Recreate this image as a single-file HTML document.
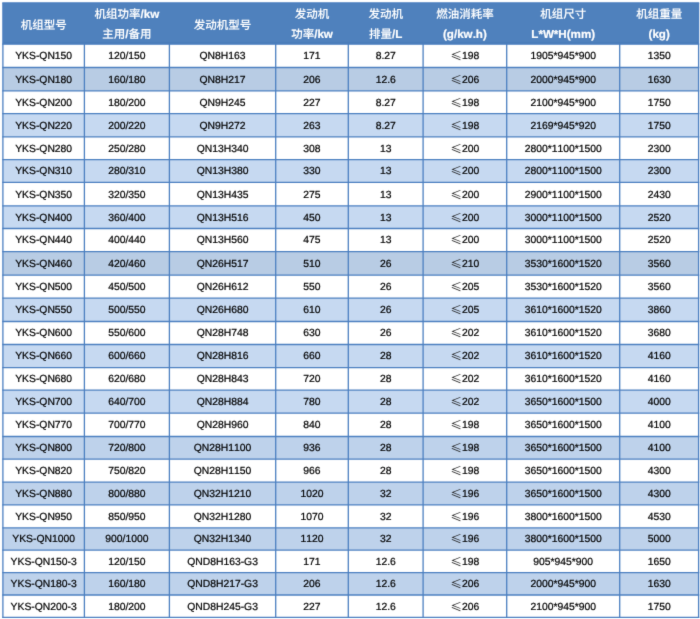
<!DOCTYPE html>
<html lang="zh-CN"><head><meta charset="utf-8"><title>机组型号参数表</title>
<style>
html,body{margin:0;padding:0;background:#fff;}
body{width:700px;height:619px;overflow:hidden;}
svg{display:block;will-change:transform;opacity:0.999;}
text{font-kerning:none;}
.b{font-family:"Liberation Sans","Noto Sans CJK SC",sans-serif;font-size:10.35px;fill:#000;stroke:#000;stroke-width:0.22px;text-anchor:middle;text-rendering:geometricPrecision;}
.h{font-family:"Liberation Sans","Noto Sans CJK SC",sans-serif;font-size:11.6px;font-weight:bold;fill:#fff;stroke:#fff;stroke-width:0.2px;text-anchor:middle;text-rendering:geometricPrecision;}
.le{font-family:"Noto Sans CJK SC",sans-serif;stroke:none;font-weight:400;font-size:11.5px;fill:#222;}
.c{font-weight:500;font-size:11.5px;stroke:#fff;stroke-width:0.08px;}
</style></head><body>
<svg width="700" height="619" viewBox="0 0 700 619">
<defs><filter id="soft" x="0" y="0" width="100%" height="100%" filterUnits="objectBoundingBox" color-interpolation-filters="sRGB"><feConvolveMatrix order="3" kernelMatrix="1 8 1 8 64 8 1 8 1" divisor="100" edgeMode="duplicate" preserveAlpha="false"/></filter></defs>
<g filter="url(#soft)">
<rect x="0" y="0" width="700" height="619" fill="#fff"/>
<rect x="2.9" y="2.9" width="695.7" height="41.2" fill="#4f81bd"/>
<rect x="2.9" y="41.8" width="695.7" height="2.3" fill="#4a7cb9"/>
<rect x="2.9" y="67.5" width="695.7" height="23.4" fill="#b8cce4"/>
<rect x="2.9" y="113.7" width="695.7" height="23.1" fill="#c6d9f1"/>
<rect x="2.9" y="159.6" width="695.7" height="22.8" fill="#c6d9f1"/>
<rect x="2.9" y="205.9" width="695.7" height="22.6" fill="#c6d9f1"/>
<rect x="2.9" y="251.6" width="695.7" height="23.6" fill="#b8cce4"/>
<rect x="2.9" y="298.2" width="695.7" height="23.3" fill="#c6d9f1"/>
<rect x="2.9" y="344.5" width="695.7" height="23.1" fill="#c6d9f1"/>
<rect x="2.9" y="390.2" width="695.7" height="23" fill="#c6d9f1"/>
<rect x="2.9" y="436.5" width="695.7" height="22.6" fill="#bed2eb"/>
<rect x="2.9" y="482.2" width="695.7" height="22.7" fill="#bed2eb"/>
<rect x="2.9" y="527.9" width="695.7" height="22.2" fill="#bed2eb"/>
<rect x="2.9" y="572.6" width="695.7" height="22.4" fill="#bed2eb"/>
<g stroke="#4b7fc0" stroke-width="1.3" fill="none">
<line x1="2.25" y1="2.9" x2="699.25" y2="2.9"/>
<line x1="2.25" y1="44.1" x2="699.25" y2="44.1"/>
<line x1="2.25" y1="67.5" x2="699.25" y2="67.5"/>
<line x1="2.25" y1="90.9" x2="699.25" y2="90.9"/>
<line x1="2.25" y1="113.7" x2="699.25" y2="113.7"/>
<line x1="2.25" y1="136.8" x2="699.25" y2="136.8"/>
<line x1="2.25" y1="159.6" x2="699.25" y2="159.6"/>
<line x1="2.25" y1="182.4" x2="699.25" y2="182.4"/>
<line x1="2.25" y1="205.9" x2="699.25" y2="205.9"/>
<line x1="2.25" y1="228.5" x2="699.25" y2="228.5"/>
<line x1="2.25" y1="251.6" x2="699.25" y2="251.6"/>
<line x1="2.25" y1="275.2" x2="699.25" y2="275.2"/>
<line x1="2.25" y1="298.2" x2="699.25" y2="298.2"/>
<line x1="2.25" y1="321.5" x2="699.25" y2="321.5"/>
<line x1="2.25" y1="344.5" x2="699.25" y2="344.5"/>
<line x1="2.25" y1="367.6" x2="699.25" y2="367.6"/>
<line x1="2.25" y1="390.2" x2="699.25" y2="390.2"/>
<line x1="2.25" y1="413.2" x2="699.25" y2="413.2"/>
<line x1="2.25" y1="436.5" x2="699.25" y2="436.5"/>
<line x1="2.25" y1="459.1" x2="699.25" y2="459.1"/>
<line x1="2.25" y1="482.2" x2="699.25" y2="482.2"/>
<line x1="2.25" y1="504.9" x2="699.25" y2="504.9"/>
<line x1="2.25" y1="527.9" x2="699.25" y2="527.9"/>
<line x1="2.25" y1="550.1" x2="699.25" y2="550.1"/>
<line x1="2.25" y1="572.6" x2="699.25" y2="572.6"/>
<line x1="2.25" y1="595" x2="699.25" y2="595"/>
<line x1="2.25" y1="617.4" x2="699.25" y2="617.4"/>
<line x1="2.9" y1="2.9" x2="2.9" y2="618.05"/>
<line x1="84.4" y1="44.1" x2="84.4" y2="618.05"/>
<line x1="169.4" y1="44.1" x2="169.4" y2="618.05"/>
<line x1="275.7" y1="44.1" x2="275.7" y2="618.05"/>
<line x1="348.3" y1="44.1" x2="348.3" y2="618.05"/>
<line x1="423.1" y1="44.1" x2="423.1" y2="618.05"/>
<line x1="506.7" y1="44.1" x2="506.7" y2="618.05"/>
<line x1="619.7" y1="44.1" x2="619.7" y2="618.05"/>
<line x1="698.6" y1="2.9" x2="698.6" y2="618.05"/>
</g>
<text class="h" x="43.65" y="28.5"><tspan class="c">机组型号</tspan></text>
<text class="h" x="126.9" y="18.1"><tspan class="c">机组功率</tspan>/kw</text>
<text class="h" x="126.9" y="38.2"><tspan class="c">主用</tspan>/<tspan class="c">备用</tspan></text>
<text class="h" x="222.55" y="28.5"><tspan class="c">发动机型号</tspan></text>
<text class="h" x="312" y="18.1"><tspan class="c">发动机</tspan></text>
<text class="h" x="312" y="38.2"><tspan class="c">功率</tspan>/kw</text>
<text class="h" x="385.7" y="18.1"><tspan class="c">发动机</tspan></text>
<text class="h" x="385.7" y="38.2"><tspan class="c">排量</tspan>/L</text>
<text class="h" x="464.9" y="18.1"><tspan class="c">燃油消耗率</tspan></text>
<text class="h" x="464.9" y="38.2">(g/kw.h)</text>
<text class="h" x="563.2" y="18.1"><tspan class="c">机组尺寸</tspan></text>
<text class="h" x="563.2" y="38.2">L*W*H(mm)</text>
<text class="h" x="659.15" y="18.1"><tspan class="c">机组重量</tspan></text>
<text class="h" x="659.15" y="38.2">(kg)</text>
<text class="b" x="43.65" y="59">YKS-QN150</text>
<text class="b" x="126.9" y="59">120/150</text>
<text class="b" x="222.55" y="59">QN8H163</text>
<text class="b" x="312" y="59">171</text>
<text class="b" x="385.7" y="59">8.27</text>
<text class="b" x="464.9" y="59"><tspan class="le" dy="1">≤</tspan><tspan dy="-1">198</tspan></text>
<text class="b" x="563.2" y="59">1905*945*900</text>
<text class="b" x="659.15" y="59">1350</text>
<text class="b" x="43.65" y="83">YKS-QN180</text>
<text class="b" x="126.9" y="83">160/180</text>
<text class="b" x="222.55" y="83">QN8H217</text>
<text class="b" x="312" y="83">206</text>
<text class="b" x="385.7" y="83">12.6</text>
<text class="b" x="464.9" y="83"><tspan class="le" dy="1">≤</tspan><tspan dy="-1">206</tspan></text>
<text class="b" x="563.2" y="83">2000*945*900</text>
<text class="b" x="659.15" y="83">1630</text>
<text class="b" x="43.65" y="106">YKS-QN200</text>
<text class="b" x="126.9" y="106">180/200</text>
<text class="b" x="222.55" y="106">QN9H245</text>
<text class="b" x="312" y="106">227</text>
<text class="b" x="385.7" y="106">8.27</text>
<text class="b" x="464.9" y="106"><tspan class="le" dy="1">≤</tspan><tspan dy="-1">198</tspan></text>
<text class="b" x="563.2" y="106">2100*945*900</text>
<text class="b" x="659.15" y="106">1750</text>
<text class="b" x="43.65" y="129">YKS-QN220</text>
<text class="b" x="126.9" y="129">200/220</text>
<text class="b" x="222.55" y="129">QN9H272</text>
<text class="b" x="312" y="129">263</text>
<text class="b" x="385.7" y="129">8.27</text>
<text class="b" x="464.9" y="129"><tspan class="le" dy="1">≤</tspan><tspan dy="-1">198</tspan></text>
<text class="b" x="563.2" y="129">2169*945*920</text>
<text class="b" x="659.15" y="129">1750</text>
<text class="b" x="43.65" y="152">YKS-QN280</text>
<text class="b" x="126.9" y="152">250/280</text>
<text class="b" x="222.55" y="152">QN13H340</text>
<text class="b" x="312" y="152">308</text>
<text class="b" x="385.7" y="152">13</text>
<text class="b" x="464.9" y="152"><tspan class="le" dy="1">≤</tspan><tspan dy="-1">200</tspan></text>
<text class="b" x="563.2" y="152">2800*1100*1500</text>
<text class="b" x="659.15" y="152">2300</text>
<text class="b" x="43.65" y="174">YKS-QN310</text>
<text class="b" x="126.9" y="174">280/310</text>
<text class="b" x="222.55" y="174">QN13H380</text>
<text class="b" x="312" y="174">330</text>
<text class="b" x="385.7" y="174">13</text>
<text class="b" x="464.9" y="174"><tspan class="le" dy="1">≤</tspan><tspan dy="-1">200</tspan></text>
<text class="b" x="563.2" y="174">2800*1100*1500</text>
<text class="b" x="659.15" y="174">2300</text>
<text class="b" x="43.65" y="198">YKS-QN350</text>
<text class="b" x="126.9" y="198">320/350</text>
<text class="b" x="222.55" y="198">QN13H435</text>
<text class="b" x="312" y="198">275</text>
<text class="b" x="385.7" y="198">13</text>
<text class="b" x="464.9" y="198"><tspan class="le" dy="1">≤</tspan><tspan dy="-1">200</tspan></text>
<text class="b" x="563.2" y="198">2900*1100*1500</text>
<text class="b" x="659.15" y="198">2430</text>
<text class="b" x="43.65" y="221">YKS-QN400</text>
<text class="b" x="126.9" y="221">360/400</text>
<text class="b" x="222.55" y="221">QN13H516</text>
<text class="b" x="312" y="221">450</text>
<text class="b" x="385.7" y="221">13</text>
<text class="b" x="464.9" y="221"><tspan class="le" dy="1">≤</tspan><tspan dy="-1">200</tspan></text>
<text class="b" x="563.2" y="221">3000*1100*1500</text>
<text class="b" x="659.15" y="221">2520</text>
<text class="b" x="43.65" y="243">YKS-QN440</text>
<text class="b" x="126.9" y="243">400/440</text>
<text class="b" x="222.55" y="243">QN13H560</text>
<text class="b" x="312" y="243">475</text>
<text class="b" x="385.7" y="243">13</text>
<text class="b" x="464.9" y="243"><tspan class="le" dy="1">≤</tspan><tspan dy="-1">200</tspan></text>
<text class="b" x="563.2" y="243">3000*1100*1500</text>
<text class="b" x="659.15" y="243">2520</text>
<text class="b" x="43.65" y="267">YKS-QN460</text>
<text class="b" x="126.9" y="267">420/460</text>
<text class="b" x="222.55" y="267">QN26H517</text>
<text class="b" x="312" y="267">510</text>
<text class="b" x="385.7" y="267">26</text>
<text class="b" x="464.9" y="267"><tspan class="le" dy="1">≤</tspan><tspan dy="-1">210</tspan></text>
<text class="b" x="563.2" y="267">3530*1600*1520</text>
<text class="b" x="659.15" y="267">3560</text>
<text class="b" x="43.65" y="290">YKS-QN500</text>
<text class="b" x="126.9" y="290">450/500</text>
<text class="b" x="222.55" y="290">QN26H612</text>
<text class="b" x="312" y="290">550</text>
<text class="b" x="385.7" y="290">26</text>
<text class="b" x="464.9" y="290"><tspan class="le" dy="1">≤</tspan><tspan dy="-1">205</tspan></text>
<text class="b" x="563.2" y="290">3530*1600*1520</text>
<text class="b" x="659.15" y="290">3560</text>
<text class="b" x="43.65" y="313">YKS-QN550</text>
<text class="b" x="126.9" y="313">500/550</text>
<text class="b" x="222.55" y="313">QN26H680</text>
<text class="b" x="312" y="313">610</text>
<text class="b" x="385.7" y="313">26</text>
<text class="b" x="464.9" y="313"><tspan class="le" dy="1">≤</tspan><tspan dy="-1">205</tspan></text>
<text class="b" x="563.2" y="313">3610*1600*1520</text>
<text class="b" x="659.15" y="313">3860</text>
<text class="b" x="43.65" y="336">YKS-QN600</text>
<text class="b" x="126.9" y="336">550/600</text>
<text class="b" x="222.55" y="336">QN28H748</text>
<text class="b" x="312" y="336">630</text>
<text class="b" x="385.7" y="336">26</text>
<text class="b" x="464.9" y="336"><tspan class="le" dy="1">≤</tspan><tspan dy="-1">202</tspan></text>
<text class="b" x="563.2" y="336">3610*1600*1520</text>
<text class="b" x="659.15" y="336">3680</text>
<text class="b" x="43.65" y="359">YKS-QN660</text>
<text class="b" x="126.9" y="359">600/660</text>
<text class="b" x="222.55" y="359">QN28H816</text>
<text class="b" x="312" y="359">660</text>
<text class="b" x="385.7" y="359">28</text>
<text class="b" x="464.9" y="359"><tspan class="le" dy="1">≤</tspan><tspan dy="-1">202</tspan></text>
<text class="b" x="563.2" y="359">3610*1600*1520</text>
<text class="b" x="659.15" y="359">4160</text>
<text class="b" x="43.65" y="382">YKS-QN680</text>
<text class="b" x="126.9" y="382">620/680</text>
<text class="b" x="222.55" y="382">QN28H843</text>
<text class="b" x="312" y="382">720</text>
<text class="b" x="385.7" y="382">28</text>
<text class="b" x="464.9" y="382"><tspan class="le" dy="1">≤</tspan><tspan dy="-1">202</tspan></text>
<text class="b" x="563.2" y="382">3610*1600*1520</text>
<text class="b" x="659.15" y="382">4160</text>
<text class="b" x="43.65" y="405">YKS-QN700</text>
<text class="b" x="126.9" y="405">640/700</text>
<text class="b" x="222.55" y="405">QN28H884</text>
<text class="b" x="312" y="405">780</text>
<text class="b" x="385.7" y="405">28</text>
<text class="b" x="464.9" y="405"><tspan class="le" dy="1">≤</tspan><tspan dy="-1">202</tspan></text>
<text class="b" x="563.2" y="405">3650*1600*1500</text>
<text class="b" x="659.15" y="405">4000</text>
<text class="b" x="43.65" y="428">YKS-QN770</text>
<text class="b" x="126.9" y="428">700/770</text>
<text class="b" x="222.55" y="428">QN28H960</text>
<text class="b" x="312" y="428">840</text>
<text class="b" x="385.7" y="428">28</text>
<text class="b" x="464.9" y="428"><tspan class="le" dy="1">≤</tspan><tspan dy="-1">198</tspan></text>
<text class="b" x="563.2" y="428">3650*1600*1500</text>
<text class="b" x="659.15" y="428">4100</text>
<text class="b" x="43.65" y="451">YKS-QN800</text>
<text class="b" x="126.9" y="451">720/800</text>
<text class="b" x="222.55" y="451">QN28H1100</text>
<text class="b" x="312" y="451">936</text>
<text class="b" x="385.7" y="451">28</text>
<text class="b" x="464.9" y="451"><tspan class="le" dy="1">≤</tspan><tspan dy="-1">198</tspan></text>
<text class="b" x="563.2" y="451">3650*1600*1500</text>
<text class="b" x="659.15" y="451">4100</text>
<text class="b" x="43.65" y="474">YKS-QN820</text>
<text class="b" x="126.9" y="474">750/820</text>
<text class="b" x="222.55" y="474">QN28H1150</text>
<text class="b" x="312" y="474">966</text>
<text class="b" x="385.7" y="474">28</text>
<text class="b" x="464.9" y="474"><tspan class="le" dy="1">≤</tspan><tspan dy="-1">198</tspan></text>
<text class="b" x="563.2" y="474">3650*1600*1500</text>
<text class="b" x="659.15" y="474">4300</text>
<text class="b" x="43.65" y="497">YKS-QN880</text>
<text class="b" x="126.9" y="497">800/880</text>
<text class="b" x="222.55" y="497">QN32H1210</text>
<text class="b" x="312" y="497">1020</text>
<text class="b" x="385.7" y="497">32</text>
<text class="b" x="464.9" y="497"><tspan class="le" dy="1">≤</tspan><tspan dy="-1">196</tspan></text>
<text class="b" x="563.2" y="497">3650*1600*1500</text>
<text class="b" x="659.15" y="497">4300</text>
<text class="b" x="43.65" y="520">YKS-QN950</text>
<text class="b" x="126.9" y="520">850/950</text>
<text class="b" x="222.55" y="520">QN32H1280</text>
<text class="b" x="312" y="520">1070</text>
<text class="b" x="385.7" y="520">32</text>
<text class="b" x="464.9" y="520"><tspan class="le" dy="1">≤</tspan><tspan dy="-1">196</tspan></text>
<text class="b" x="563.2" y="520">3800*1600*1500</text>
<text class="b" x="659.15" y="520">4530</text>
<text class="b" x="43.65" y="542">YKS-QN1000</text>
<text class="b" x="126.9" y="542">900/1000</text>
<text class="b" x="222.55" y="542">QN32H1340</text>
<text class="b" x="312" y="542">1120</text>
<text class="b" x="385.7" y="542">32</text>
<text class="b" x="464.9" y="542"><tspan class="le" dy="1">≤</tspan><tspan dy="-1">196</tspan></text>
<text class="b" x="563.2" y="542">3800*1600*1500</text>
<text class="b" x="659.15" y="542">5000</text>
<text class="b" x="43.65" y="565">YKS-QN150-3</text>
<text class="b" x="126.9" y="565">120/150</text>
<text class="b" x="222.55" y="565">QND8H163-G3</text>
<text class="b" x="312" y="565">171</text>
<text class="b" x="385.7" y="565">12.6</text>
<text class="b" x="464.9" y="565"><tspan class="le" dy="1">≤</tspan><tspan dy="-1">198</tspan></text>
<text class="b" x="563.2" y="565">905*945*900</text>
<text class="b" x="659.15" y="565">1650</text>
<text class="b" x="43.65" y="587">YKS-QN180-3</text>
<text class="b" x="126.9" y="587">160/180</text>
<text class="b" x="222.55" y="587">QND8H217-G3</text>
<text class="b" x="312" y="587">206</text>
<text class="b" x="385.7" y="587">12.6</text>
<text class="b" x="464.9" y="587"><tspan class="le" dy="1">≤</tspan><tspan dy="-1">206</tspan></text>
<text class="b" x="563.2" y="587">2000*945*900</text>
<text class="b" x="659.15" y="587">1630</text>
<text class="b" x="43.65" y="610">YKS-QN200-3</text>
<text class="b" x="126.9" y="610">180/200</text>
<text class="b" x="222.55" y="610">QND8H245-G3</text>
<text class="b" x="312" y="610">227</text>
<text class="b" x="385.7" y="610">12.6</text>
<text class="b" x="464.9" y="610"><tspan class="le" dy="1">≤</tspan><tspan dy="-1">206</tspan></text>
<text class="b" x="563.2" y="610">2100*945*900</text>
<text class="b" x="659.15" y="610">1750</text>
</g>
</svg>
</body></html>
